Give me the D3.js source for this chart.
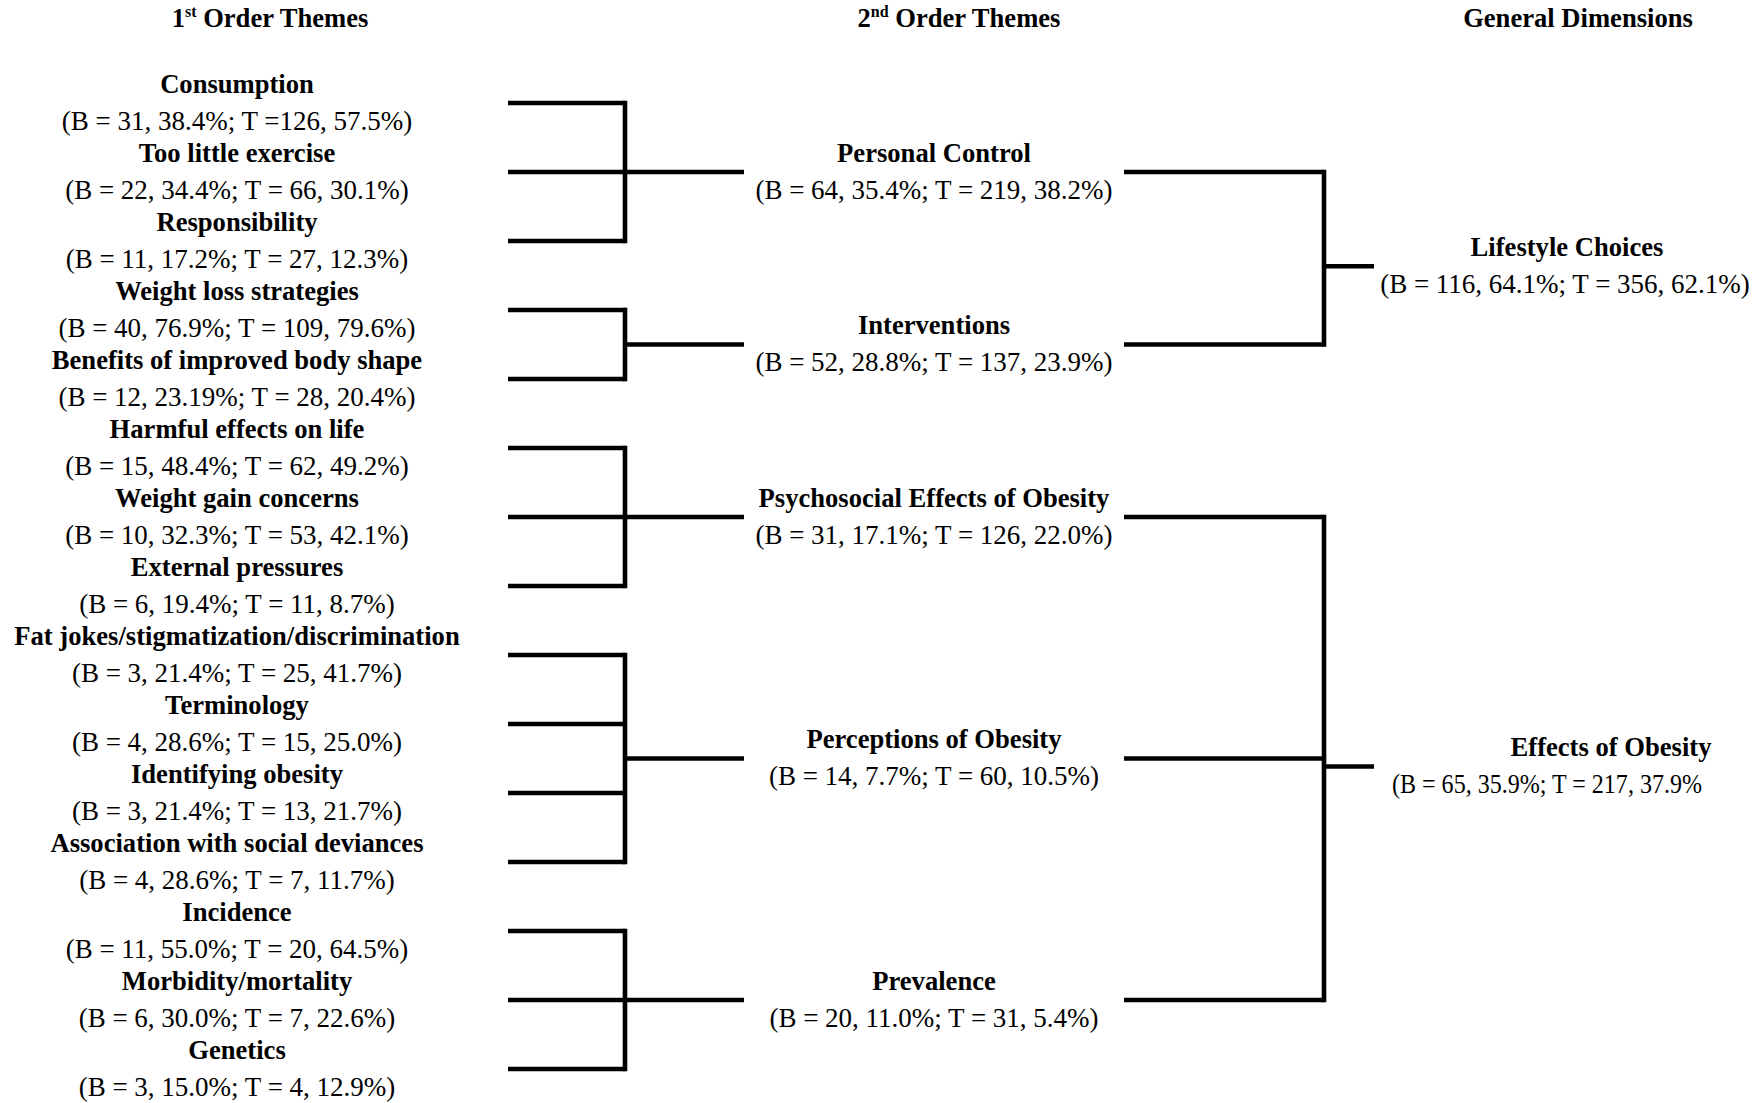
<!DOCTYPE html>
<html>
<head>
<meta charset="utf-8">
<script src="https://cdn.jsdelivr.net/npm/d3@7"></script>
<style>
  html, body { margin: 0; padding: 0; background: #fff; }
  svg { display: block; }
  text { font-family: "Liberation Serif", "Times New Roman", serif; fill: #000; }
</style>
</head>
<body>
<svg id="chart" width="1759" height="1103"></svg>
<script>
// ---------- data ----------
const headers = ["1|st| Order Themes", "2|nd| Order Themes", "General Dimensions"];

const firstNames = ["Consumption", "Too little exercise", "Responsibility", "Weight loss strategies",
  "Benefits of improved body shape", "Harmful effects on life", "Weight gain concerns", "External pressures",
  "Fat jokes/stigmatization/discrimination", "Terminology", "Identifying obesity",
  "Association with social deviances", "Incidence", "Morbidity/mortality", "Genetics"];
const firstB    = [31, 22, 11, 40, 12, 15, 10, 6, 3, 4, 3, 4, 11, 6, 3];
const firstBPct = ["38.4", "34.4", "17.2", "76.9", "23.19", "48.4", "32.3", "19.4", "21.4", "28.6", "21.4", "28.6", "55.0", "30.0", "15.0"];
const firstT    = [126, 66, 27, 109, 28, 62, 53, 11, 25, 15, 13, 7, 20, 7, 4];
const firstTPct = ["57.5", "30.1", "12.3", "79.6", "20.4", "49.2", "42.1", "8.7", "41.7", "25.0", "21.7", "11.7", "64.5", "22.6", "12.9"];
const firstParent = [0, 0, 0, 1, 1, 2, 2, 2, 3, 3, 3, 3, 4, 4, 4];

const secondNames = ["Personal Control", "Interventions", "Psychosocial Effects of Obesity", "Perceptions of Obesity", "Prevalence"];
const secondB    = [64, 52, 31, 14, 20];
const secondBPct = ["35.4", "28.8", "17.1", "7.7", "11.0"];
const secondT    = [219, 137, 126, 60, 31];
const secondTPct = ["38.2", "23.9", "22.0", "10.5", "5.4"];
const secondParent = [0, 0, 1, 1, 1];

const generalNames = ["Lifestyle Choices", "Effects of Obesity"];
const generalB    = [116, 65];
const generalBPct = ["64.1", "35.9"];
const generalT    = [356, 217];
const generalTPct = ["62.1", "37.9"];
const generalClose = [")", ""];

// ---------- layout ----------
const svg = d3.select("#chart");
const FSN = 26.6;   // bold names
const FSV = 27;     // value lines
const SW = 4.6;

const y = d3.scalePoint().domain(d3.range(firstNames.length)).range([103, 1069]);

const col = { first: 237, b1a: 508, b1v: 625, b1c: 744, second: 934, b2a: 1124, b2v: 1324, b2c: 1374 };
const headerX = [270, 959, 1578];

// headers
headers.forEach((h, i) => {
  const parts = h.split("|");
  const t = svg.append("text").attr("x", headerX[i]).attr("y", 27)
    .attr("text-anchor", "middle").attr("font-size", FSN).attr("font-weight", "bold");
  if (parts.length === 3) {
    t.append("tspan").text(parts[0]);
    t.append("tspan").text(parts[1]).attr("font-size", FSN * 0.6).attr("dy", -10);
    t.append("tspan").text(parts[2]).attr("dy", 10);
  } else t.text(h);
});

function label(x, yy, name, val, opts) {
  opts = opts || {};
  svg.append("text").attr("x", x).attr("y", yy - 10.5).attr("text-anchor", "middle")
    .attr("font-size", FSN).attr("font-weight", "bold").text(name);
  const v = svg.append("text").attr("x", opts.xVal !== undefined ? opts.xVal : x).attr("y", yy + 26.5)
    .attr("text-anchor", opts.anchor || "middle").attr("font-size", FSV).text(val);
  if (opts.len) v.attr("textLength", opts.len).attr("lengthAdjust", "spacingAndGlyphs");
}

const lines = svg.append("g").attr("stroke", "#000").attr("stroke-width", SW).attr("fill", "none");

// first order
const firstY = firstNames.map((_, i) => y(i));
firstNames.forEach((n, i) => {
  const tEq = i === 0 ? "T =" : "T = ";
  label(col.first, firstY[i], n, `(B = ${firstB[i]}, ${firstBPct[i]}%; ${tEq}${firstT[i]}, ${firstTPct[i]}%)`);
  lines.append("line").attr("x1", col.b1a).attr("x2", col.b1v).attr("y1", firstY[i]).attr("y2", firstY[i]);
});

// second order
const secondY = secondNames.map((_, k) => d3.mean(firstY.filter((_, i) => firstParent[i] === k)));
secondNames.forEach((n, k) => {
  const ys = firstY.filter((_, i) => firstParent[i] === k);
  lines.append("line").attr("x1", col.b1v).attr("x2", col.b1v)
    .attr("y1", d3.min(ys) - SW / 2).attr("y2", d3.max(ys) + SW / 2);
  lines.append("line").attr("x1", col.b1v).attr("x2", col.b1c).attr("y1", secondY[k]).attr("y2", secondY[k]);
  label(col.second, secondY[k], n, `(B = ${secondB[k]}, ${secondBPct[k]}%; T = ${secondT[k]}, ${secondTPct[k]}%)`);
  lines.append("line").attr("x1", col.b2a).attr("x2", col.b2v).attr("y1", secondY[k]).attr("y2", secondY[k]);
});

// general dimensions
const genNameX = [1567, 1611];
const genOpts = [{ xVal: 1565, anchor: "middle" }, { xVal: 1392, anchor: "start", len: 310 }];
generalNames.forEach((n, g) => {
  const ys = secondY.filter((_, k) => secondParent[k] === g);
  const yc = (d3.min(ys) + d3.max(ys)) / 2 + 8;
  lines.append("line").attr("x1", col.b2v).attr("x2", col.b2v)
    .attr("y1", d3.min(ys) - SW / 2).attr("y2", d3.max(ys) + SW / 2);
  lines.append("line").attr("x1", col.b2v).attr("x2", col.b2c).attr("y1", yc).attr("y2", yc);
  label(genNameX[g], yc, n, `(B = ${generalB[g]}, ${generalBPct[g]}%; T = ${generalT[g]}, ${generalTPct[g]}%${generalClose[g]}`,
    genOpts[g]);
});
</script>
</body>
</html>
